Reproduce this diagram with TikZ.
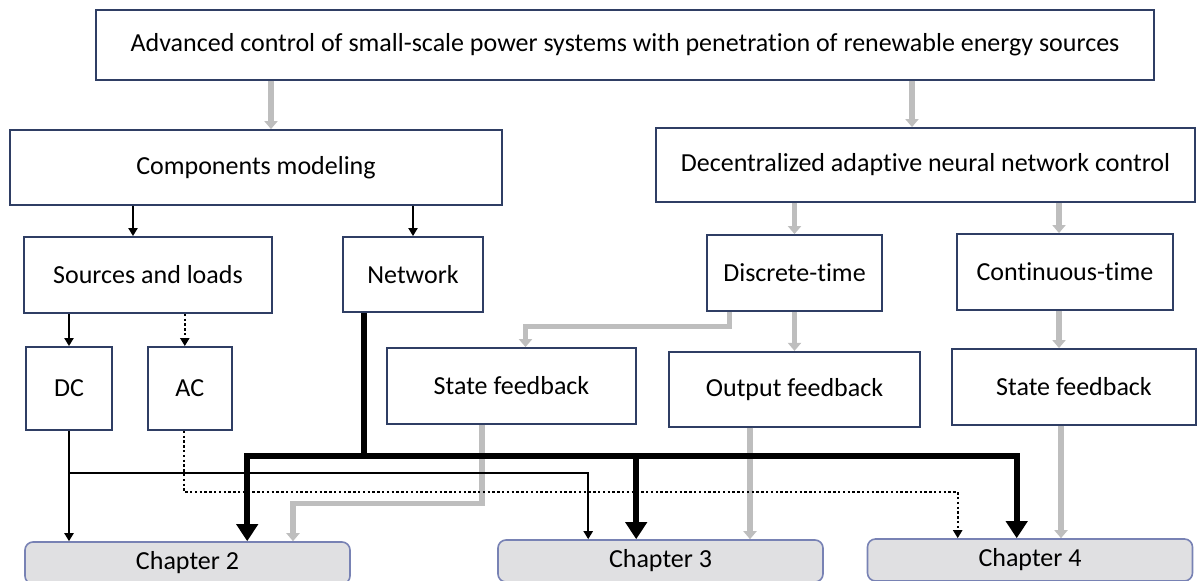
\documentclass[tikz,border=0pt]{standalone}
\usepackage{fontspec}
\setmainfont{Carlito}[Ligatures=NoCommon]
\usepackage{tikz}
\usetikzlibrary{arrows.meta,positioning,calc}
\definecolor{boxline}{RGB}{47,62,100}
\definecolor{chapline}{RGB}{120,130,180}
\definecolor{chapfill}{RGB}{224,224,226}
\definecolor{flowgray}{RGB}{190,190,190}

\begin{document}
\begin{tikzpicture}[
    x=0.5pt, y=-0.5pt,
    box/.style={rectangle, draw=boxline, fill=white, line width=0.9pt, inner sep=0pt, text centered, font=\fontsize{13}{15.6}\selectfont},
    chapter/.style={rectangle, draw=chapline, fill=chapfill, line width=0.8pt, rounded corners=4pt, inner sep=0pt, minimum width=162.5pt, minimum height=21pt, font=\fontsize{13}{15.6}\selectfont},
    grayarrow/.style={-{Triangle[width=6.5pt,length=4pt]}, color=flowgray, line width=2.6pt},
    thinarrow/.style={-{Triangle[width=4.5pt,length=4pt]}, line width=1.2pt},
    dotarrow/.style={thinarrow, dash pattern=on 1.2pt off 1.2pt},
    busline/.style={line width=3.2pt},
    busarrow/.style={busline, -{Triangle[width=10.5pt,length=8.5pt]}}
]
    \useasboundingbox (0,0) rectangle (1198,581);
    \clip (0,0) rectangle (1198,581);

    % boxes
    \node[box, minimum width=529pt, minimum height=35pt] (top) at (625,45) {Advanced control of small-scale power systems with penetration of renewable energy sources};
    \node[box, minimum width=246pt, minimum height=37.5pt] (comp) at (256,167.5) {Components modeling};
    \node[box, minimum width=269.5pt, minimum height=37pt] (dec) at (925.5,165) {Decentralized adaptive neural network control};
    \node[box, minimum width=124pt, minimum height=38pt] (src) at (148,275) {Sources and loads};
    \node[box, minimum width=70pt, minimum height=37.5pt] (net) at (413,274.5) {Network};
    \node[box, minimum width=87.5pt, minimum height=38pt] (disc) at (794.5,273) {Discrete-time};
    \node[box, minimum width=108pt, minimum height=38pt] (cont) at (1065,272) {Continuous-time};
    \node[box, minimum width=43pt, minimum height=41.5pt] (dc) at (69,388.5) {DC};
    \node[box, minimum width=42pt, minimum height=41.5pt, right=17pt of dc] (ac) {AC};
    \node[box, minimum width=124.5pt, minimum height=38pt] (sfl) at (511.5,386) {State feedback};
    \node[box, minimum width=125.5pt, minimum height=37.5pt, below=19.5pt of disc] (ofb) {Output feedback};
    \node[box, minimum width=122pt, minimum height=38pt] (sfr) at (1074,387) {State feedback};

    \node[chapter] (ch2) at (187.5,563) {Chapter 2};
    \node[chapter] (ch3) at (660.5,561) {Chapter 3};
    \node[chapter] (ch4) at (1030,560) {Chapter 4};

    % gray flow
    \draw[grayarrow] ($(top.south -| comp.north)+(15,0)$) -- ($(comp.north)+(15,0)$);
    \draw[grayarrow] ($(top.south -| dec.north)+(-13.5,0)$) -- ($(dec.north)+(-13.5,0)$);
    \draw[grayarrow] (dec.south -| disc.north) -- (disc.north);
    \draw[grayarrow] ($(dec.south -| cont.north)+(-6,0)$) -- ($(cont.north)+(-6,0)$);
    \draw[grayarrow] ($(disc.south)+(-65,0)$) -- ++(0,15) -| ($(sfl.north)+(14,0)$);
    \draw[grayarrow] (disc.south) -- (ofb.north);
    \draw[grayarrow] ($(cont.south)+(-6,0)$) -- ($(cont.south |- sfr.north)+(-6,0)$);
    \draw[grayarrow] ($(sfl.south)+(-29.5,0)$) -- ++(0,79) -| ($(ch2.north)+(105.5,0)$);
    \draw[grayarrow] ($(ofb.south)+(-44.5,0)$) -- ($(ch3.north)+(89.5,0)$);
    \draw[grayarrow] ($(sfr.south)+(-13,0)$) -- ($(ch4.north)+(31,0)$);

    % modeling
    \draw[thinarrow] ($(comp.south -| src.north)+(-15,0)$) -- ($(src.north)+(-15,0)$);
    \draw[thinarrow] (comp.south -| net.north) -- (net.north);
    \draw[thinarrow] (src.south -| dc.north) -- (dc.north);
    \draw[dotarrow] ($(src.south -| ac.north)+(-5,0)$) -- ($(ac.north)+(-5,0)$);
    \draw[thinarrow] (dc.south) -- (dc.south |- ch2.north);
    \draw[thinarrow] ($(dc.south)+(0,42)$) -| ($(ch3.north west)+(91,0)$);
    \draw[dotarrow] ($(ac.south)+(-6,0)$) -- ++(0,61) -| ($(ch4.north west)+(91,0)$);

    % network bus
    \coordinate (bus) at ($(net.south west)+(22,143)$);
    \draw[busline] (net.south west -| bus) -- (bus);
    \draw[busarrow] (bus) -| ($(ch2.north west)+(223,0)$);
    \draw[busarrow] (bus) -| ($(ch3.north west)+(139,0)$);
    \draw[busarrow] (bus) -| ($(ch4.north west)+(150,0)$);
\end{tikzpicture}
\end{document}
